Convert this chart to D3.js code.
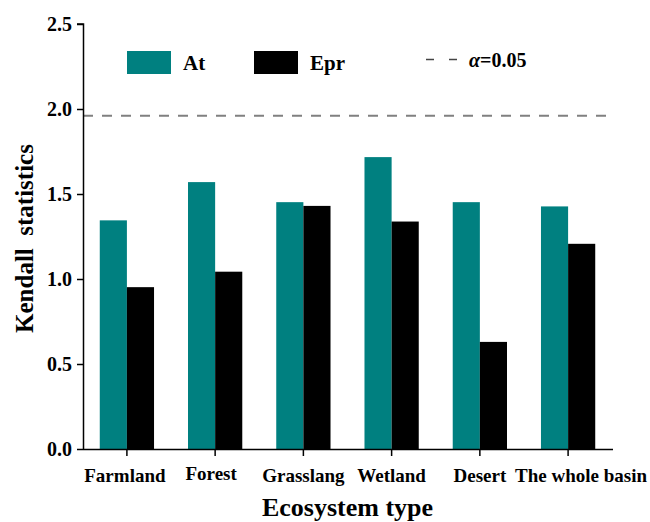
<!DOCTYPE html>
<html>
<head>
<meta charset="utf-8">
<script src="https://cdn.jsdelivr.net/npm/d3@7"></script>
<style>
  body { margin: 0; background: #fff; }
  text { font-family: "Liberation Serif", "Times New Roman", serif; font-weight: bold; }
</style>
</head>
<body>
<div id="chart"></div>
<script>
// data
const categories = ["Farmland", "Forest", "Grasslang", "Wetland", "Desert", "The whole basin"];
const seriesNames = ["At", "Epr"];
const atValues = [1.345, 1.570, 1.452, 1.717, 1.452, 1.427];
const eprValues = [0.952, 1.043, 1.430, 1.338, 0.630, 1.207];
const yTicks = [0.0, 0.5, 1.0, 1.5, 2.0, 2.5];
const alphaLevel = 1.96;

const width = 650, height = 522;
const margin = {top: 24, right: 38, bottom: 73, left: 83};
const colors = {At: "#008080", Epr: "#000000"};

const svg = d3.select("#chart").append("svg")
    .attr("width", width)
    .attr("height", height);

const x = d3.scaleBand()
    .domain(categories)
    .range([margin.left, width - margin.right])
    .paddingInner(0.385)
    .paddingOuter(0.19);

const xSub = d3.scaleBand()
    .domain(seriesNames)
    .range([0, x.bandwidth()]);

const y = d3.scaleLinear()
    .domain([0, 2.5])
    .range([height - margin.bottom, margin.top]);

// table for the bars
const rows = categories.map((c, i) => ({cat: c, At: atValues[i], Epr: eprValues[i]}));

// bars
svg.append("g")
    .selectAll("g")
    .data(rows)
    .join("g")
    .attr("transform", d => `translate(${x(d.cat)},0)`)
    .selectAll("rect")
    .data(d => seriesNames.map(k => ({key: k, value: d[k]})))
    .join("rect")
    .attr("x", d => xSub(d.key))
    .attr("y", d => y(d.value))
    .attr("width", xSub.bandwidth())
    .attr("height", d => y(0) - y(d.value))
    .attr("fill", d => colors[d.key]);

// significance line
svg.append("line")
    .attr("x1", margin.left)
    .attr("x2", width - margin.right)
    .attr("y1", y(alphaLevel))
    .attr("y2", y(alphaLevel))
    .attr("stroke", "#808080")
    .attr("stroke-width", 2)
    .attr("stroke-dasharray", "10,9");

// y axis
const yAxis = svg.append("g")
    .attr("transform", `translate(${margin.left},0)`)
    .call(d3.axisLeft(y).tickValues(yTicks).tickFormat(d3.format(".1f")).tickSize(6).tickPadding(5));
yAxis.select(".domain").attr("stroke-width", 1.5).attr("d", `M0.5,${y(0)}V${y(2.5)}H-6`);
yAxis.selectAll(".tick line").attr("stroke-width", 1.5);
yAxis.selectAll(".tick text")
    .attr("font-size", 20)
    .attr("fill", "#000")
    .style("font-family", "Liberation Serif")
    .style("font-weight", "bold");

// x axis
const xAxis = svg.append("g")
    .attr("transform", `translate(0,${y(0)})`)
    .call(d3.axisBottom(x).tickSize(7).tickSizeOuter(0).tickPadding(9));
xAxis.select(".domain").attr("stroke-width", 1.5).attr("d", `M${margin.left},0.5H${x.range()[1] + 1}`);
xAxis.selectAll(".tick line").attr("stroke-width", 1.5);
xAxis.selectAll(".tick text")
    .attr("font-size", 19)
    .attr("fill", "#000")
    .attr("dy", "0.9em")
    .style("font-family", "Liberation Serif")
    .style("font-weight", "bold");
// labels sit a little off-centre in the reference
xAxis.selectAll(".tick text").filter(d => d === "Farmland").attr("dx", -2);
xAxis.selectAll(".tick text").filter(d => d === "Forest").attr("dx", -4).attr("dy", "0.8em");
xAxis.selectAll(".tick text").filter(d => d === "The whole basin").attr("dx", 13);

// axis titles
svg.append("text")
    .attr("x", (margin.left + x.range()[1]) / 2)
    .attr("y", 516)
    .attr("text-anchor", "middle")
    .attr("font-size", 26)
    .text("Ecosystem type");

svg.append("text")
    .attr("transform", `translate(33,${y(1.25) + 2}) rotate(-90)`)
    .attr("text-anchor", "middle")
    .attr("font-size", 25)
    .text("Kendall\u00a0\u00a0statistics");

// legend
const legend = svg.append("g");
const legendItems = [{key: "At", x: 127}, {key: "Epr", x: 254}];
legend.selectAll("rect")
    .data(legendItems)
    .join("rect")
    .attr("x", d => d.x)
    .attr("y", 51)
    .attr("width", 44)
    .attr("height", 23)
    .attr("fill", d => colors[d.key]);
legend.selectAll("text.item")
    .data(legendItems)
    .join("text")
    .attr("class", "item")
    .attr("x", d => d.x + 56)
    .attr("y", 70)
    .attr("font-size", 21)
    .text(d => d.key);

legend.append("line")
    .attr("x1", 426).attr("x2", 458)
    .attr("y1", 59.5).attr("y2", 59.5)
    .attr("stroke", "#444")
    .attr("stroke-width", 1.3)
    .attr("stroke-dasharray", "8,15");

const alphaText = legend.append("text")
    .attr("x", 469)
    .attr("y", 67)
    .attr("font-size", 20);
alphaText.append("tspan").attr("font-style", "italic").text("α");
alphaText.append("tspan").text("=0.05");
</script>
</body>
</html>
